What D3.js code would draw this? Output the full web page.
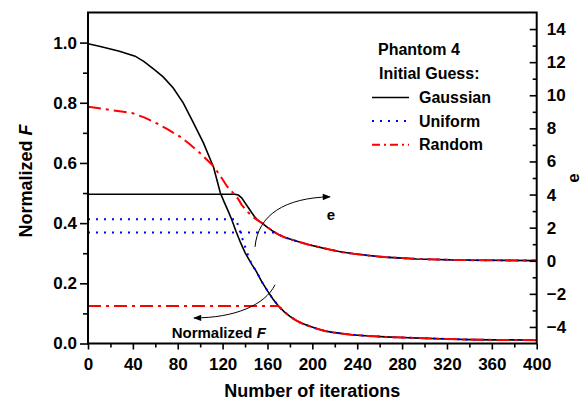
<!DOCTYPE html>
<html>
<head>
<meta charset="utf-8">
<script src="https://cdn.jsdelivr.net/npm/d3@7"></script>
<style>
  html, body { margin: 0; padding: 0; background: #fff; }
  svg { display: block; font-family: Arial, "Liberation Sans", sans-serif; }
</style>
</head>
<body>
<svg id="chart" width="585" height="400"></svg>
<script>
// ---- tick values ----
const iterTicks = [0, 40, 80, 120, 160, 200, 240, 280, 320, 360, 400];
const iterMinor = [20, 60, 100, 140, 180, 220, 260, 300, 340, 380];
const fTicks = [0.0, 0.2, 0.4, 0.6, 0.8, 1.0];
const fMinor = [0.1, 0.3, 0.5, 0.7, 0.9];
const eTicks = [-4, -2, 0, 2, 4, 6, 8, 10, 12, 14];
const eMinor = [-3, -1, 1, 3, 5, 7, 9, 11, 13];

// ---- converged tails shared by all three initial guesses ----
const fTail = [[146,0.263],[150,0.24],[155,0.205],[160,0.175],[165,0.147],[170,0.124],
  [175,0.105],[180,0.09],[185,0.078],[190,0.068],[197,0.058],[205,0.048],[212,0.041],
  [220,0.036],[235,0.029],[250,0.025],[265,0.022],[280,0.02],[295,0.018],[320,0.015],
  [340,0.013],[360,0.012],[380,0.012],[400,0.011]];
const eTail = [[155,2.28],[160,2.02],[165,1.78],[170,1.58],[175,1.42],[182,1.27],[190,1.1],
  [197,0.97],[205,0.84],[212,0.73],[226,0.53],[237,0.42],[250,0.32],[264,0.22],[280,0.16],
  [293,0.11],[310,0.08],[323,0.05],[350,0.03],[375,0.02],[400,0.01]];

// ---- normalized F (left axis) ----
const gaussianF = [[0,0.996],[10,0.988],[20,0.979],[28,0.971],[42,0.955],[50,0.937],[60,0.908],
  [67,0.886],[76,0.849],[85,0.799],[94,0.733],[103,0.666],[112,0.585],[118,0.5],
  [122,0.465],[125,0.44],[128,0.413],[132,0.372],[136,0.335],[140,0.302]].concat(fTail);
const uniformF = [[0,0.413],[132,0.413],[134,0.39],[137,0.355],[140,0.322],[143,0.29]].concat(fTail);
const randomF = [[0,0.125],[169,0.125]].concat(fTail.filter(d => d[0] >= 170));

// ---- e (right axis) ----
const gaussianE = [[0,4.02],[131,4.02],[134,3.97],[137,3.8],[140,3.5],[143,3.2],[146,2.9],
  [149,2.62],[152,2.42]].concat(eTail);
const uniformE = [[0,1.71],[167,1.71]].concat(eTail.filter(d => d[0] >= 170));
const randomE = [[0,9.31],[10,9.22],[20,9.11],[30,9.02],[40,8.91],[50,8.66],[61,8.31],[70,7.98],
  [82,7.5],[90,7.08],[100,6.5],[106,6.1],[112,5.7],[118,5.12],[124,4.49],[130,4.05],[134,3.72],
  [137,3.38],[141,3.05],[146,2.7],[150,2.5]].concat(eTail);

const svg = d3.select("#chart");
const W = 585, H = 400;
const m = { left: 88, right: 48.3, top: 12.5, bottom: 56.5 };
const x = d3.scaleLinear([0, 400], [m.left, W - m.right]);
const yF = d3.scaleLinear([0, 1.1], [H - m.bottom, m.top]);
const yE = d3.scaleLinear([-5, 15], [H - m.bottom, m.top]);

const BLACK = "#000", BLUE = "#0000ff", RED = "#ff0000";
const styles = {
  Gaussian: { color: BLACK, dash: null, width: 1.6 },
  Uniform:  { color: BLUE, dash: "2,6", width: 2 },
  Random:   { color: RED, dash: "13,5,3,5", width: 2 }
};

const defs = svg.append("defs");
defs.append("clipPath").attr("id", "plotClip")
  .append("rect").attr("x", m.left).attr("y", m.top)
  .attr("width", x.range()[1] - m.left).attr("height", yF.range()[0] - m.top);
defs.append("marker").attr("id", "arrowHead")
  .attr("viewBox", "0 0 10 10").attr("refX", 9).attr("refY", 5)
  .attr("markerUnits", "userSpaceOnUse").attr("markerWidth", 10).attr("markerHeight", 8)
  .attr("orient", "auto")
  .append("path").attr("d", "M0,1 L10,5 L0,9 Z").attr("fill", "#000");

// ---- curves ----
const lineF = d3.line().x(d => x(d[0])).y(d => yF(d[1]));
const lineE = d3.line().x(d => x(d[0])).y(d => yE(d[1]));
const series = [
  { name: "Gaussian", f: gaussianF, e: gaussianE },
  { name: "Uniform", f: uniformF, e: uniformE },
  { name: "Random", f: randomF, e: randomE }
];
const plot = svg.append("g").attr("clip-path", "url(#plotClip)");
series.forEach(s => {
  const st = styles[s.name];
  [[lineF, s.f], [lineE, s.e]].forEach(([gen, data]) => {
    plot.append("path").datum(data)
      .attr("d", gen).attr("fill", "none")
      .attr("stroke", st.color).attr("stroke-width", st.width)
      .attr("stroke-dasharray", st.dash);
  });
});

// ---- annotation arrows (in data space of the left axis) ----
const eArrow = [[148.9,0.321],[151.5,0.428],[175.6,0.484],[215.7,0.4875]];
const fArrow = [[166.7,0.195],[157.8,0.128],[131,0.085],[94.5,0.085]];
[eArrow, fArrow].forEach(pts => {
  const p = pts.map(d => [x(d[0]), yF(d[1])]);
  svg.append("path")
    .attr("d", `M${p[0]}C${p[1]} ${p[2]} ${p[3]}`)
    .attr("fill", "none").attr("stroke", "#000").attr("stroke-width", 1)
    .attr("marker-end", "url(#arrowHead)");
});
svg.append("text").attr("x", x(216.6)).attr("y", yF(0.409))
  .attr("text-anchor", "middle").attr("font-size", 15).attr("font-weight", "bold").text("e");
const nf = svg.append("text").attr("x", x(74.6)).attr("y", yF(0.0195))
  .attr("font-size", 15).attr("font-weight", "bold");
nf.append("tspan").text("Normalized ");
nf.append("tspan").attr("font-style", "italic").text("F");

// ---- axes ----
const tickFont = 17;
function styleAxis(g) {
  g.select(".domain").remove();
  g.selectAll("line").attr("stroke", "#000").attr("stroke-width", 1.6);
  g.selectAll("text").attr("font-size", tickFont).attr("font-weight", "bold")
    .attr("fill", "#000").attr("font-family", "Arial, 'Liberation Sans', sans-serif");
}
const yBot = yF.range()[0];
svg.append("g").attr("transform", `translate(0,${yBot})`)
  .call(d3.axisBottom(x).tickValues(iterTicks).tickSize(6).tickPadding(8).tickFormat(d3.format("d")))
  .call(styleAxis);
svg.append("g").attr("transform", `translate(0,${yBot})`)
  .call(d3.axisBottom(x).tickValues(iterMinor).tickSize(4).tickFormat(""))
  .call(styleAxis);
svg.append("g").attr("transform", `translate(${m.left},0)`)
  .call(d3.axisLeft(yF).tickValues(fTicks).tickSize(8).tickPadding(3).tickFormat(d3.format(".1f")))
  .call(styleAxis);
svg.append("g").attr("transform", `translate(${m.left},0)`)
  .call(d3.axisLeft(yF).tickValues(fMinor).tickSize(5).tickFormat(""))
  .call(styleAxis);
const xr = x.range()[1];
svg.append("g").attr("transform", `translate(${xr},0)`)
  .call(d3.axisRight(yE).tickValues(eTicks).tickSize(-7).tickPadding(10).tickFormat(d3.format("d")))
  .call(styleAxis)
  .call(g => g.selectAll("text").attr("x", 10));
svg.append("g").attr("transform", `translate(${xr},0)`)
  .call(d3.axisRight(yE).tickValues(eMinor).tickSize(-4).tickFormat(""))
  .call(styleAxis);

// frame
svg.append("rect").attr("x", m.left).attr("y", m.top)
  .attr("width", xr - m.left).attr("height", yBot - m.top)
  .attr("fill", "none").attr("stroke", "#000").attr("stroke-width", 2);

// ---- axis titles ----
svg.append("text").attr("x", (m.left + xr) / 2).attr("y", 397)
  .attr("text-anchor", "middle").attr("font-size", 18).attr("font-weight", "bold")
  .text("Number of iterations");
const yt = svg.append("text").attr("transform", "translate(32,181) rotate(-90)")
  .attr("text-anchor", "middle").attr("font-size", 18).attr("font-weight", "bold");
yt.append("tspan").text("Normalized ");
yt.append("tspan").attr("font-style", "italic").text("F");
svg.append("text").attr("transform", "translate(579,178) rotate(-90)")
  .attr("text-anchor", "middle").attr("font-size", 17).attr("font-weight", "bold").text("e");

// ---- legend ----
const lg = svg.append("g").attr("font-size", 16).attr("font-weight", "bold");
lg.append("text").attr("x", 378).attr("y", 55).text("Phantom 4");
lg.append("text").attr("x", 379).attr("y", 78.5).text("Initial Guess:");
["Gaussian", "Uniform", "Random"].forEach((name, i) => {
  const yy = 97.5 + i * 23.6;
  const st = styles[name];
  lg.append("line").attr("x1", 372).attr("x2", 409).attr("y1", yy).attr("y2", yy)
    .attr("stroke", st.color).attr("stroke-width", st.width)
    .attr("stroke-dasharray", name === "Random" ? "8,4,2,4" : st.dash);
  lg.append("text").attr("x", 419).attr("y", yy + 5.5).text(name);
});
</script>
</body>
</html>
